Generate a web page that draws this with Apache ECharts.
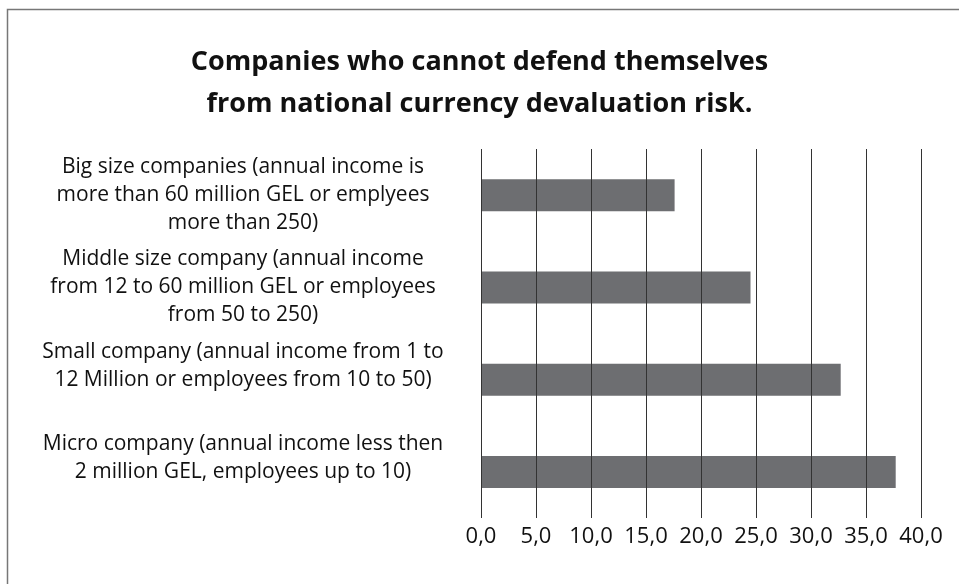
<!DOCTYPE html>
<html>
<head>
<meta charset="utf-8">
<script src="https://cdn.jsdelivr.net/npm/echarts@6/dist/echarts.min.js"></script>
<style>
html,body{margin:0;padding:0;background:#fff;}
#chart{width:959px;height:584px;}
</style>
</head>
<body>
<div id="chart"></div>
<script>
const titleText = "Companies who cannot defend themselves\nfrom national currency devaluation risk.";
const categories = [
  "Big size companies (annual income is\nmore than 60 million GEL or emplyees\nmore than 250)",
  "Middle size company (annual income\nfrom 12 to 60 million GEL or employees\nfrom 50 to 250)",
  "Small company (annual income from 1 to\n12 Million or employees from 10 to 50)",
  "Micro company (annual income less then\n2 million GEL, employees up to 10)"
];
const values = [17.6, 24.5, 32.7, 37.7];
const xMin = 0, xMax = 40, xInterval = 5;

const chart = echarts.init(document.getElementById('chart'));
chart.setOption({
  animation: false,
  backgroundColor: '#fff',
  title: {
    text: titleText,
    left: 'center',
    top: 36,
    textStyle: {
      fontFamily: 'Open Sans',
      fontWeight: 'bold',
      fontSize: 27,
      lineHeight: 42,
      color: '#111'
    }
  },
  graphic: [{
    type: 'rect',
    shape: {x: 7.5, y: 9.5, width: 1000, height: 700},
    style: {fill: null, stroke: '#777', lineWidth: 1.5},
    silent: true
  }],
  grid: {left: 481, right: 38, top: 149, bottom: 66},
  xAxis: {
    type: 'value',
    min: xMin, max: xMax, interval: xInterval,
    z: 5,
    axisLine: {show: false},
    axisTick: {show: false},
    splitLine: {show: true, lineStyle: {color: '#333', width: 1}},
    axisLabel: {
      margin: 8,
      fontFamily: 'Open Sans',
      fontSize: 22,
      color: '#111',
      formatter: v => v.toFixed(1).replace('.', ',')
    }
  },
  yAxis: {
    type: 'category',
    data: categories,
    inverse: true,
    axisLine: {show: false},
    axisTick: {show: false},
    splitLine: {show: false},
    axisLabel: {
      margin: 238,
      align: 'center',
      fontFamily: 'Open Sans',
      fontSize: 21,
      lineHeight: 28,
      color: '#111',
      formatter: v => v.split('\n').length === 2 ? v + '\n' : v
    }
  },
  series: [{
    type: 'bar',
    data: values,
    barWidth: 32,
    itemStyle: {color: '#6d6e71'},
    z: 2
  }]
});
</script>
</body>
</html>
